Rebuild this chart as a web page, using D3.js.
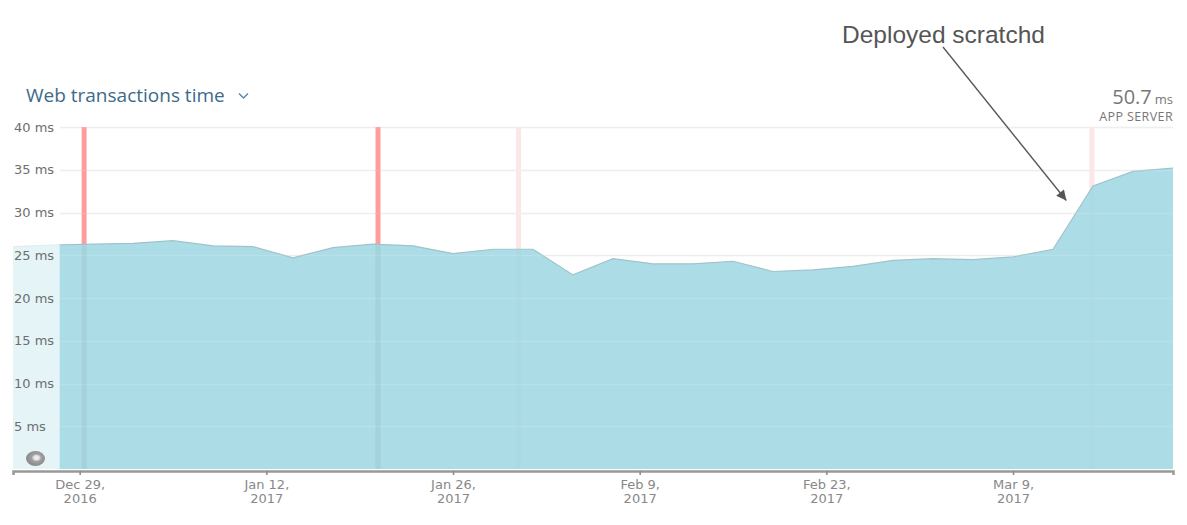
<!DOCTYPE html>
<html><head><meta charset="utf-8">
<script src="https://cdn.jsdelivr.net/npm/d3@7"></script>
<style>
body{margin:0;background:#fff;}
svg{display:block;font-family:"DejaVu Sans",sans-serif;}
</style></head>
<body><svg id="c" width="1187" height="525"></svg>
<script>
// ---- data ----
const startDate = "2016-12-24";
const stepDays = 3;
const responseMs = [26.0, 26.2, 26.3, 26.4, 26.7, 26.1, 26.0, 24.7, 25.9, 26.3,
  26.1, 25.2, 25.7, 25.7, 22.7, 24.6, 24.0, 24.0, 24.3, 23.1,
  23.3, 23.7, 24.4, 24.6, 24.5, 24.8, 25.7, 33.1, 34.8, 35.2];
const eventTimes = ["2016-12-29T08:00", "2017-01-20T09:00", "2017-01-30T22:00", "2017-03-14T22:00"];
const eventKinds = ["strong", "strong", "faint", "faint"];
const xTicks = ["2016-12-29", "2017-01-12", "2017-01-26", "2017-02-09", "2017-02-23", "2017-03-09"];
const yTicks = [5, 10, 15, 20, 25, 30, 35, 40];
const domainStart = "2016-12-24", domainEnd = "2017-03-21";
const dataVisibleFrom = "2016-12-27T12:00";
const title = "Web transactions time";
const summaryValue = "50.7", summaryUnit = "ms", summaryLabel = "APP SERVER";
const annotation = "Deployed scratchd";
const annotationTarget = ["2017-03-13T00:00", 31.4];

// ---- build ----
const parse = d3.isoParse;
const t0 = parse(startDate);
const data = responseMs.map((v, i) => ({date: d3.timeDay.offset(t0, i * stepDays), v}));

const svg = d3.select("#c");
const x = d3.scaleTime().domain([parse(domainStart), parse(domainEnd)]).range([13, 1173]);
const y = d3.scaleLinear().domain([0, 40]).range([469, 127]);

const defs = svg.append("defs");
const rg = defs.append("radialGradient").attr("id", "tog").attr("cx", "55%").attr("cy", "45%");
rg.append("stop").attr("offset", "0%").attr("stop-color", "#f4f4f4");
rg.append("stop").attr("offset", "30%").attr("stop-color", "#e2e2e2");
rg.append("stop").attr("offset", "50%").attr("stop-color", "#a0a0a0");
rg.append("stop").attr("offset", "100%").attr("stop-color", "#8c8c8c");

// gridlines under
svg.append("g").selectAll("line").data(yTicks).join("line")
  .attr("x1", 60).attr("x2", 1173)
  .attr("y1", d => Math.round(y(d)) + 0.5).attr("y2", d => Math.round(y(d)) + 0.5)
  .attr("stroke", "#ececec").attr("stroke-width", 1.5);

// event lines (full height)
svg.append("g").selectAll("rect").data(eventTimes).join("rect")
  .attr("x", d => x(parse(d)) - 2.5).attr("width", 5)
  .attr("y", y(40)).attr("height", y(0) - y(40))
  .attr("fill", (d, i) => eventKinds[i] === "strong" ? "#ff9d9d" : "#fde6e6");

// area
const area = d3.area().x(d => x(d.date)).y0(y(0)).y1(d => y(d.v));
svg.append("path").datum(data).attr("d", area).attr("fill", "#acdde7");
svg.append("path").datum(data)
  .attr("d", d3.line().x(d => x(d.date)).y(d => y(d.v)))
  .attr("fill", "none").attr("stroke", "#9fc3cc").attr("stroke-width", 1.2);

// event lines inside area (muted)
svg.append("g").selectAll("rect").data(eventTimes).join("rect")
  .attr("x", d => x(parse(d)) - 2.5).attr("width", 5)
  .attr("y", d => {
    const dt = parse(d);
    const i = d3.bisector(p => p.date).right(data, dt);
    const a = data[i - 1], b = data[i];
    const v = a.v + (b.v - a.v) * (dt - a.date) / (b.date - a.date);
    return y(v) + 1;
  })
  .attr("height", function(d) { return y(0) - (+this.getAttribute("y")); })
  .attr("fill", (d, i) => eventKinds[i] === "strong" ? "rgba(120,140,150,0.15)" : "rgba(150,160,170,0.05)");

// gridlines faint over area
svg.append("g").selectAll("line").data(yTicks).join("line")
  .attr("x1", 60).attr("x2", 1173)
  .attr("y1", d => Math.round(y(d)) + 0.5).attr("y2", d => Math.round(y(d)) + 0.5)
  .attr("stroke", "rgba(255,255,255,0.12)").attr("stroke-width", 1.5);

// out-of-range veil on the left
svg.append("rect").attr("x", 13).attr("y", y(40)).attr("width", x(parse(dataVisibleFrom)) - 13)
  .attr("height", y(0) - y(40)).attr("fill", "rgba(255,255,255,0.68)");

// y labels
svg.append("g").selectAll("text").data(yTicks).join("text")
  .attr("x", 14).attr("y", d => y(d)).attr("dy", "0.35em")
  .attr("font-size", 13).attr("fill", "#6e6e6e").text(d => d + " ms");

// toggle icon
svg.append("ellipse").attr("cx", 35.5).attr("cy", 458.5).attr("rx", 9.5).attr("ry", 7.5)
  .attr("fill", "url(#tog)");

// x axis
const xa = d3.axisBottom(x).tickValues(xTicks.map(parse)).tickSize(4).tickFormat("");
const gx = svg.append("g").attr("transform", "translate(0,471)").call(xa);
gx.select(".domain").attr("stroke", "#999").attr("stroke-width", 2.5);
gx.selectAll(".tick line").attr("stroke", "#888").attr("stroke-width", 1.5);
const fmt1 = d3.timeFormat("%b %-d,"), fmt2 = d3.timeFormat("%Y");
gx.selectAll(".tick").each(function(d) {
  const g = d3.select(this);
  g.append("text").attr("y", 18).attr("fill", "#888").attr("font-size", 13)
    .attr("font-family", "'DejaVu Sans',sans-serif")
    .attr("text-anchor", "middle").text(fmt1(d));
  g.append("text").attr("y", 32).attr("fill", "#888").attr("font-size", 13)
    .attr("font-family", "'DejaVu Sans',sans-serif")
    .attr("text-anchor", "middle").text(fmt2(d));
});

// title
svg.append("text").attr("x", 26).attr("y", 102).attr("font-size", 19)
  .attr("font-family", "'Open Sans',sans-serif")
  .attr("fill", "#3d6a8a").text(title);
svg.append("path").attr("d", "M239,93.5 L243.5,98 L248,93.5")
  .attr("fill", "none").attr("stroke", "#5b86a3").attr("stroke-width", 1.4);

// summary
const st = svg.append("text").attr("x", 1173).attr("y", 104).attr("text-anchor", "end")
  .attr("font-family", "'Open Sans',sans-serif").attr("fill", "#777");
st.append("tspan").attr("font-size", 20).text(summaryValue);
st.append("tspan").attr("font-size", 13).attr("dx", 3).text(summaryUnit);
svg.append("text").attr("x", 1173).attr("y", 121).attr("text-anchor", "end")
  .attr("font-family", "'Open Sans',sans-serif").attr("letter-spacing", 0.4)
  .attr("font-size", 12.5).attr("fill", "#777").text(summaryLabel);

// annotation
svg.append("text").attr("x", 842).attr("y", 43).attr("font-family", "'Liberation Sans',Arial,sans-serif")
  .attr("font-size", 24.5).attr("fill", "#555").text(annotation);
const ax = x(parse(annotationTarget[0])), ay = y(annotationTarget[1]);
defs.append("marker").attr("id", "arr").attr("viewBox", "0 0 10 10").attr("refX", 10).attr("refY", 5)
  .attr("markerWidth", 14).attr("markerHeight", 10).attr("markerUnits", "userSpaceOnUse").attr("orient", "auto")
  .append("path").attr("d", "M0,0 L10,5 L0,10 z").attr("fill", "#555");
svg.append("line").attr("x1", 943).attr("y1", 47).attr("x2", ax).attr("y2", ay)
  .attr("stroke", "#555").attr("stroke-width", 1.3).attr("marker-end", "url(#arr)");
</script></body></html>
